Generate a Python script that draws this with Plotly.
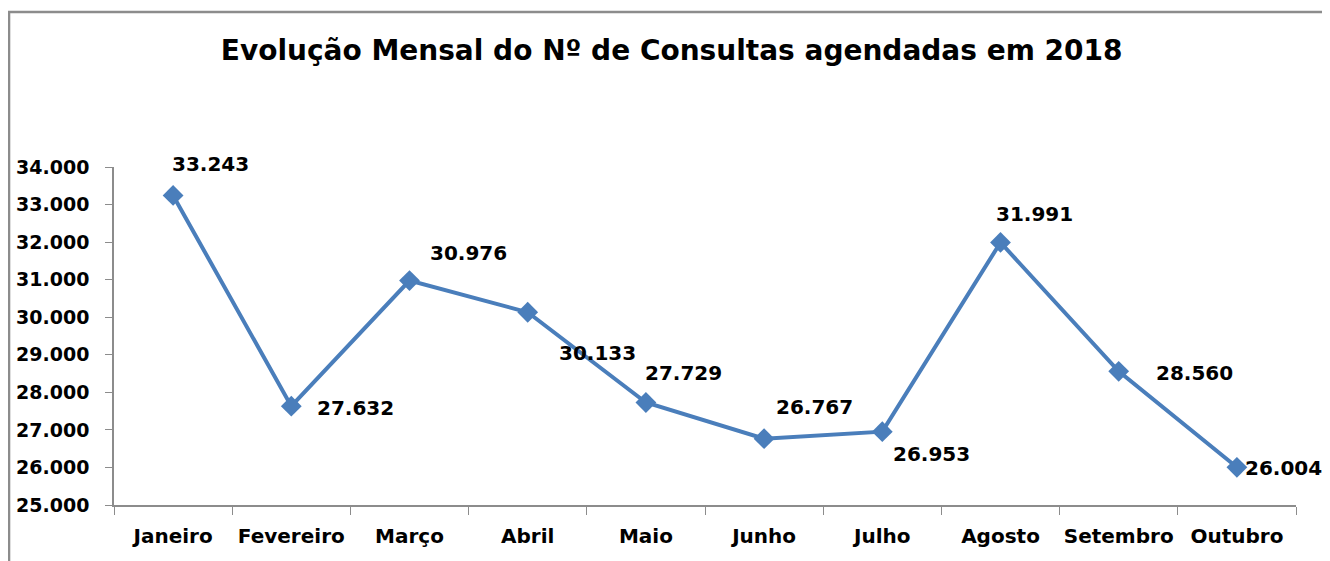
import plotly.graph_objects as go

months = ["Janeiro", "Fevereiro", "Março", "Abril", "Maio", "Junho", "Julho", "Agosto", "Setembro", "Outubro"]
consultas = [33243, 27632, 30976, 30133, 27729, 26767, 26953, 31991, 28560, 26004]
label_dx = [37, 64, 59, 70, 38, 50, 49, 34, 76, 47]
label_dy = [31, -2, 28, -41, 30, 32, -22, 28, -2, -1]

FONT = "DejaVu Sans"
BLUE = "#4A7EBB"

fig = go.Figure()
fig.add_trace(go.Scatter(
    x=months, y=consultas, mode="lines+markers",
    line=dict(color=BLUE, width=4),
    marker=dict(symbol="diamond", size=16, color=BLUE),
    hoverinfo="skip", showlegend=False,
))

for m, v, dx, dy in zip(months, consultas, label_dx, label_dy):
    fig.add_annotation(x=m, y=v, text=f"{v:,}".replace(",", "."), showarrow=False,
                       xshift=dx, yshift=dy,
                       font=dict(family=FONT, size=20, color="#000000", weight="bold"))

fig.add_shape(type="rect", xref="paper", yref="paper",
              x0=-0.0888, x1=1.04, y0=-0.25, y1=1.4586,
              line=dict(color="#8C8C8C", width=2.5), fillcolor="rgba(0,0,0,0)", layer="below")

fig.update_layout(
    width=1322, height=553,
    margin=dict(l=106, r=34, t=159, b=56),
    paper_bgcolor="white", plot_bgcolor="white",
    separators=",.",
    title=dict(text="<b>Evolução Mensal do Nº de Consultas agendadas em 2018</b>",
               x=0.502, xanchor="center", y=0.924, yanchor="middle",
               font=dict(family=FONT, size=28, color="#000000")),
    xaxis=dict(type="category", range=[-0.5, 9.5], showgrid=False, automargin=False,
               tickangle=0, ticklabelstandoff=12,
               showline=True, linecolor="#8C8C8C", linewidth=1.5,
               ticks="outside", tickson="boundaries", ticklen=8, tickcolor="#8C8C8C",
               tickfont=dict(family=FONT, size=20, color="#000000", weight="bold")),
    yaxis=dict(range=[25000, 34000], dtick=1000, tickformat=",.0f", showgrid=False,
               automargin=False, ticklabelstandoff=12,
               showline=True, linecolor="#8C8C8C", linewidth=1.5,
               ticks="outside", ticklen=7, tickcolor="#8C8C8C", zeroline=False,
               tickfont=dict(family=FONT, size=19, color="#000000", weight="bold")),
)

fig.write_html("out.html")
